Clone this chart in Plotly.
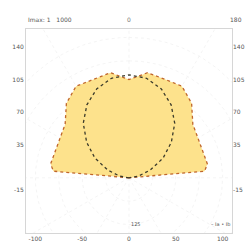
import numpy as np
import plotly.graph_objects as go

# ---- data (polar: angle from vertical in degrees, intensity) ----
outer_angles = [-90, -85, -80, -70, -60, -50, -40, -30, -20, -10, 0,
                10, 20, 30, 40, 50, 60, 70, 80, 85, 90]
outer_vals = [0, 81, 85, 84, 85, 89, 104, 113, 112, 114, 105,
              114, 112, 113, 104, 89, 85, 84, 85, 81, 0]

inner_angles = [-90, -80, -70, -60, -50, -40, -30, -20, -10, 0,
                10, 20, 30, 40, 50, 60, 70, 80, 90]
inner_vals = [0, 10, 24, 42, 59, 76, 90, 101, 108, 110,
              108, 101, 90, 76, 59, 42, 24, 10, 0]

x_ticks = [-100, -50, 0, 50, 100]
x_labels = ["-100", "-50", "0", "50", "100"]
y_ticks = [-13, 35, 70, 105, 140]
y_labels = ["-15", "35", "70", "105", "140"]
grid_radii = [25, 50, 75, 100, 125, 150]
grid_rays = [0, 30, 60, 90, 120, 150, 180, 210, 240, 270, 300, 330]


def to_xy(angles, vals):
    a = np.radians(np.array(angles, dtype=float))
    r = np.array(vals, dtype=float)
    return r * np.sin(a), r * np.cos(a)


fig = go.Figure()

# faint polar grid
t = np.linspace(0, 2 * np.pi, 181)
for rr in grid_radii:
    fig.add_trace(go.Scatter(x=rr * np.sin(t), y=rr * np.cos(t), mode="lines",
                             line=dict(color="#efefef", width=0.7, dash="dot"),
                             hoverinfo="skip", showlegend=False))
for ang in grid_rays:
    a = np.radians(ang)
    fig.add_trace(go.Scatter(x=[0, 220 * np.sin(a)], y=[0, 220 * np.cos(a)], mode="lines",
                             line=dict(color="#efefef", width=0.7, dash="dot"),
                             hoverinfo="skip", showlegend=False))

ox, oy = to_xy(outer_angles, outer_vals)
fig.add_trace(go.Scatter(x=ox, y=oy, mode="lines", fill="toself",
                         fillcolor="#FDE28C",
                         line=dict(color="#C0662B", width=1.3, dash="dot"),
                         showlegend=False))

ix, iy = to_xy(inner_angles, inner_vals)
fig.add_trace(go.Scatter(x=ix, y=iy, mode="lines",
                         line=dict(color="#3b3a2a", width=1.3, dash="dot"),
                         showlegend=False))

# invisible trace for right axis
fig.add_trace(go.Scatter(x=[0], y=[0], yaxis="y2", mode="markers",
                         marker=dict(opacity=0), hoverinfo="skip", showlegend=False))

tick_font = dict(family="DejaVu Sans", size=6, color="#555")
fig.update_layout(
    width=250, height=251,
    margin=dict(l=26, r=18, t=29, b=18, autoexpand=False),
    paper_bgcolor="white", plot_bgcolor="white",
    font=dict(family="DejaVu Sans", size=6, color="#555"),
    xaxis=dict(range=[-110, 110], tickvals=x_ticks, ticktext=x_labels,
               showgrid=False, zeroline=False, showline=True, mirror=True,
               linecolor="#d6d6d6", ticks="", automargin=False, tickfont=tick_font),
    yaxis=dict(range=[-59, 159], tickvals=y_ticks, ticktext=y_labels,
               showgrid=False, zeroline=False, showline=True, mirror=True,
               linecolor="#d6d6d6", ticks="", automargin=False, tickfont=tick_font),
    yaxis2=dict(range=[-59, 159], tickvals=y_ticks, ticktext=y_labels,
                overlaying="y", side="right", showgrid=False, zeroline=False,
                ticks="", automargin=False, tickfont=tick_font),
    annotations=[
        dict(text="Imax: 1   1000", x=0, y=1.045, xref="paper", yref="paper",
             xanchor="left", yanchor="middle", showarrow=False,
             font=dict(size=6, color="#555")),
        dict(text="0", x=0.5, y=1.045, xref="paper", yref="paper",
             xanchor="center", yanchor="middle", showarrow=False,
             font=dict(size=6, color="#777")),
        dict(text="180", x=1.02, y=1.045, xref="paper", yref="paper",
             xanchor="center", yanchor="middle", showarrow=False,
             font=dict(size=6, color="#555")),
        dict(text="– Ia • Ib", x=1.0, y=0.02, xref="paper", yref="paper",
             xanchor="right", yanchor="bottom", showarrow=False,
             font=dict(size=5, color="#555")),
        dict(text="125", x=0.5, y=0.02, xref="paper", yref="paper",
             xanchor="left", yanchor="bottom", showarrow=False,
             font=dict(size=5, color="#555")),
    ],
)

fig.write_html("out.html",
               config={"displayModeBar": False, "staticPlot": True},
               post_script="document.body.style.margin='0';document.body.style.overflow='hidden';")
